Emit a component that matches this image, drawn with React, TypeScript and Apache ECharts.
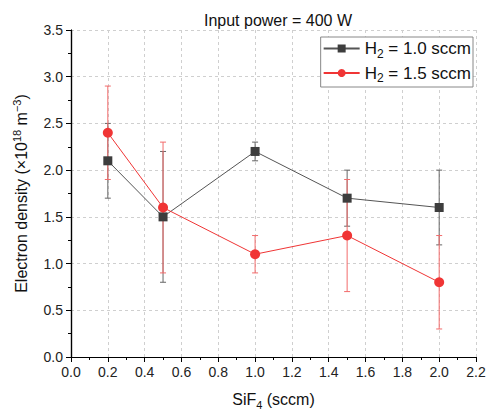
import React, { useEffect, useRef } from "react";
import * as echarts from "echarts";

const xValues = [0.2, 0.5, 1.0, 1.5, 2.0];
const h2_10 = [2.1, 1.5, 2.2, 1.7, 1.6];
const h2_10Err = [0.4, 0.7, 0.1, 0.3, 0.4];
const h2_15 = [2.4, 1.6, 1.1, 1.3, 0.8];
const h2_15Err = [0.5, 0.7, 0.2, 0.6, 0.5];
const seriesNames = ["H2 = 1.0 sccm", "H2 = 1.5 sccm"];

const FONT = "Liberation Sans, Arial, sans-serif";

function errData(ys: number[], es: number[]) {
  return xValues.map((x, i) => [x, ys[i] - es[i], ys[i] + es[i]]);
}

function errSeries(ys: number[], es: number[], color: string, z: number) {
  return {
    type: "custom",
    xAxisIndex: 0,
    yAxisIndex: 0,
    z,
    silent: true,
    data: errData(ys, es),
    encode: { x: 0, y: [1, 2] },
    renderItem: (params: any, api: any) => {
      const x = api.value(0);
      const lo = api.coord([x, api.value(1)]);
      const hi = api.coord([x, api.value(2)]);
      const cap = 3;
      const style = { stroke: color, lineWidth: 1 };
      return {
        type: "group",
        children: [
          { type: "line", shape: { x1: lo[0], y1: lo[1], x2: hi[0], y2: hi[1] }, style },
          { type: "line", shape: { x1: lo[0] - cap, y1: lo[1], x2: lo[0] + cap, y2: lo[1] }, style },
          { type: "line", shape: { x1: hi[0] - cap, y1: hi[1], x2: hi[0] + cap, y2: hi[1] }, style },
        ],
      };
    },
  };
}

export default function App() {
  const ref = useRef<HTMLDivElement>(null);
  useEffect(() => {
    if (!ref.current) return;
    const chart = echarts.init(ref.current, undefined, { renderer: "svg" });
    const axisLine = { show: true, lineStyle: { color: "#000", width: 1.2 } };
    const splitLine = { show: true, lineStyle: { color: "#cfcfcf", type: [3, 3], width: 1 } };
    const labelStyle = { color: "#222", fontSize: 14, fontFamily: FONT };
    chart.setOption({
      animation: false,
      backgroundColor: "#fff",
      title: {
        text: "Input power = 400 W",
        left: 273,
        textAlign: "center",
        top: 7,
        textStyle: { fontSize: 16, fontWeight: "normal", color: "#111", fontFamily: FONT },
      },
      grid: { left: 71, right: 16, top: 30, bottom: 60 },
      legend: {
        right: 19,
        top: 37,
        orient: "vertical",
        backgroundColor: "#fff",
        borderColor: "#888",
        borderWidth: 1,
        borderRadius: 0,
        padding: [3, 2, 3, 2],
        itemGap: 5,
        itemWidth: 36,
        itemHeight: 10,
        data: seriesNames,
        formatter: (name: string) =>
          name === seriesNames[0] ? "{a|H}{s|2}{a| = 1.0 sccm}" : "{a|H}{s|2}{a| = 1.5 sccm}",
        textStyle: {
          fontFamily: FONT,
          color: "#111",
          rich: {
            a: { fontSize: 17, fontFamily: FONT, color: "#111" },
            s: { fontSize: 12, fontFamily: FONT, color: "#111", padding: [10, 0, 0, 0] },
          },
        },
      },
      xAxis: [
        {
          type: "value",
          min: 0,
          max: 2.2,
          interval: 0.2,
          position: "bottom",
          name: "{a|SiF}{s|4}{a| (sccm)}",
          nameLocation: "middle",
          nameGap: 32,
          nameTextStyle: {
            rich: {
              a: { fontSize: 16, fontFamily: FONT, color: "#111" },
              s: { fontSize: 11, fontFamily: FONT, color: "#111", padding: [10, 0, 0, 0] },
            },
          },
          axisLine,
          axisTick: { show: true, inside: false, length: 5, lineStyle: { color: "#000" } },
          minorTick: { show: true, splitNumber: 2, length: 3, lineStyle: { color: "#000" } },
          axisLabel: { ...labelStyle, formatter: (v: number) => v.toFixed(1), margin: 8 },
          splitLine,
        },
        {
          type: "value",
          min: 0,
          max: 2.2,
          interval: 0.2,
          position: "top",
          axisLine,
          axisTick: { show: true, inside: true, length: 5, lineStyle: { color: "#000" } },
          minorTick: { show: true, splitNumber: 2, length: 3, lineStyle: { color: "#000" } },
          axisLabel: { show: false },
          splitLine: { show: false },
        },
      ],
      yAxis: [
        {
          type: "value",
          min: 0,
          max: 3.5,
          interval: 0.5,
          position: "left",
          name: "{a|Electron density (×10}{p|18}{a| m}{p|−3}{a|)}",
          nameLocation: "middle",
          nameGap: 39,
          nameRotate: 90,
          nameTextStyle: {
            rich: {
              a: { fontSize: 16, fontFamily: FONT, color: "#111" },
              p: { fontSize: 11, fontFamily: FONT, color: "#111", padding: [0, 0, 10, 0] },
            },
          },
          axisLine,
          axisTick: { show: true, inside: false, length: 5, lineStyle: { color: "#000" } },
          minorTick: { show: true, splitNumber: 2, length: 3, lineStyle: { color: "#000" } },
          axisLabel: { ...labelStyle, formatter: (v: number) => v.toFixed(1), margin: 8 },
          splitLine,
        },
        {
          type: "value",
          min: 0,
          max: 3.5,
          interval: 0.5,
          position: "right",
          axisLine,
          axisTick: { show: true, inside: true, length: 5, lineStyle: { color: "#000" } },
          minorTick: { show: true, splitNumber: 2, length: 3, lineStyle: { color: "#000" } },
          axisLabel: { show: false },
          splitLine: { show: false },
        },
      ],
      series: [
        errSeries(h2_10, h2_10Err, "#666", 2),
        errSeries(h2_15, h2_15Err, "#f26b6b", 2),
        {
          name: seriesNames[0],
          type: "line",
          data: xValues.map((x, i) => [x, h2_10[i]]),
          symbol: "rect",
          symbolSize: 9,
          z: 4,
          itemStyle: { color: "#3d3d3d" },
          lineStyle: { color: "#555", width: 1 },
        },
        {
          name: seriesNames[1],
          type: "line",
          data: xValues.map((x, i) => [x, h2_15[i]]),
          symbol: "circle",
          symbolSize: 10,
          z: 5,
          itemStyle: { color: "#f03535" },
          lineStyle: { color: "#f03535", width: 1 },
        },
      ],
    });
    return () => chart.dispose();
  }, []);
  return (
    <div
      ref={ref}
      style={{ position: "fixed", left: 0, top: 0, width: 492, height: 417 }}
    />
  );
}
